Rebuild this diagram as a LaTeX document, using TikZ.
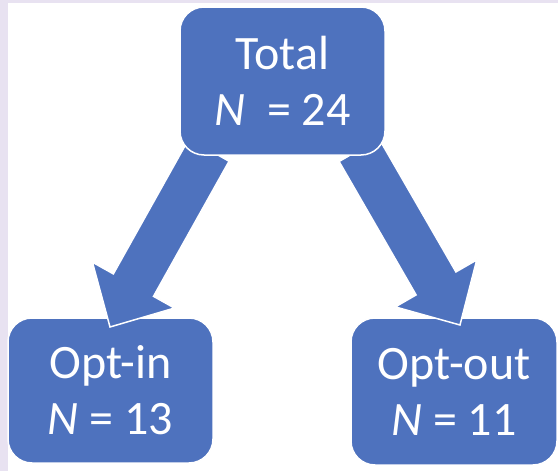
\documentclass[tikz,border=0pt]{standalone}
\usepackage{fontspec}
\setmainfont{Carlito}
\usetikzlibrary{calc}
\definecolor{boxblue}{RGB}{78,114,190}
\definecolor{lav}{RGB}{232,226,241}
\newcommand\fatarrowdraw[2]{%
  \coordinate (fab) at ($(#2)!48pt!(#1)$);
  \fill[boxblue, draw=white, line width=1.5pt, line join=miter]
    ($(#1)!23pt!90:(#2)$) --
    ($(fab)!23pt!90:(#2)$) --
    ($(fab)!47pt!90:(#2)$) --
    (#2) --
    ($(fab)!47pt!-90:(#2)$) --
    ($(fab)!23pt!-90:(#2)$) --
    ($(#1)!23pt!-90:(#2)$) -- cycle;}
\begin{document}
\begin{tikzpicture}[x=1pt,y=-1pt,
  box/.style={draw=white, line width=1.5pt, fill=boxblue, rounded corners=24pt,
    text=white, align=center, inner sep=0pt,
    font=\fontsize{48}{56}\selectfont}]
\useasboundingbox (0,0) rectangle (558,471);
\fill[white] (0,0) rectangle (558,471);
\fill[lav] (0,0) rectangle (558,3);
\fill[lav] (0,0) rectangle (8,471);
% bottom boxes
\node[box, minimum width=205pt, minimum height=145pt] (optin) at (110.5,390.5) {Opt-in\\\textit{N} = 13};
\node[box, minimum width=206pt, minimum height=147pt] (optout) at (454,391.5) {Opt-out\\\textit{N} = 11};
% arrows
\coordinate (sL) at (209,150);
\coordinate (tL) at (110,327);
\coordinate (sR) at (359,150);
\coordinate (tR) at (460,325);
\fatarrowdraw{sL}{tL}
\fatarrowdraw{sR}{tR}
% top box
\node[box, minimum width=205pt, minimum height=148pt] (total) at (282.5,81) {Total\\\textit{N}\ \ = 24};
\end{tikzpicture}
\end{document}
